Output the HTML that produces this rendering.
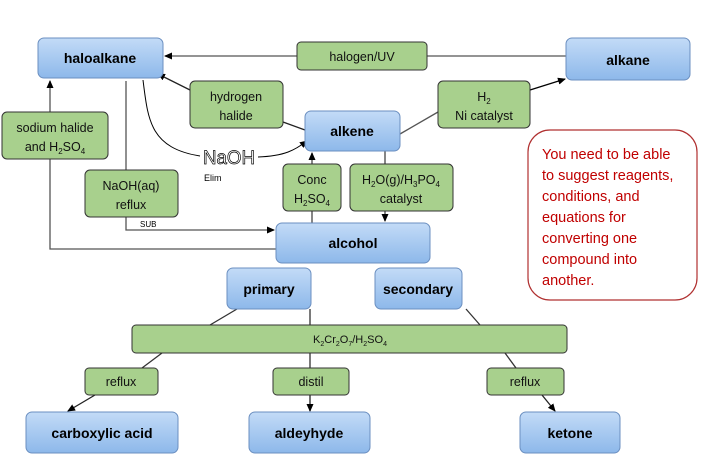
<!DOCTYPE html>
<html><head><meta charset="utf-8"><style>
html,body{margin:0;padding:0;background:#fff;}
svg{display:block;font-family:"Liberation Sans",sans-serif;}
.b{font-weight:bold;font-size:14px;fill:#000;}
.g{font-size:12.5px;fill:#111;}
</style></head><body>
<svg width="707" height="470" viewBox="0 0 707 470" xmlns="http://www.w3.org/2000/svg">
<defs>
<linearGradient id="bl" x1="0" y1="0" x2="0" y2="1"><stop offset="0" stop-color="#c3dbf7"/><stop offset="1" stop-color="#8db8ea"/></linearGradient>
<marker id="a" markerWidth="8" markerHeight="8" refX="7" refY="4" orient="auto" markerUnits="userSpaceOnUse"><path d="M0,0.5 L8,4 L0,7.5 z" fill="#000"/></marker>
</defs>
<g stroke="#555" stroke-width="1.3" fill="none">
<line x1="566" y1="56" x2="165" y2="56" marker-end="url(#a)"/>
<line x1="400" y1="134" x2="438" y2="112"/>
<line x1="530" y1="90" x2="565" y2="79" stroke="#000" marker-end="url(#a)"/>
<line x1="305" y1="130" x2="283" y2="122" stroke="#222"/>
<line x1="190" y1="90" x2="158" y2="74" stroke="#222" marker-end="url(#a)"/>
<polyline points="276,249 50,249 50,81" marker-end="url(#a)"/>
<polyline points="126,81 126,230 274,230" marker-end="url(#a)"/>
<line x1="312" y1="223" x2="312" y2="153" stroke="#444" marker-end="url(#a)"/>
<line x1="385" y1="151" x2="385" y2="221" stroke="#444" marker-end="url(#a)"/>
<line x1="237" y1="309" x2="210" y2="325" stroke="#333"/>
<line x1="310" y1="309" x2="310" y2="325" stroke="#333"/>
<line x1="466" y1="309" x2="480" y2="325" stroke="#333"/>
<line x1="162" y1="353" x2="142" y2="368" stroke="#333"/>
<line x1="310" y1="353" x2="310" y2="368" stroke="#333"/>
<line x1="505" y1="353" x2="516" y2="368" stroke="#333"/>
<line x1="95" y1="395" x2="68" y2="411" stroke="#222" marker-end="url(#a)"/>
<line x1="310" y1="395" x2="310" y2="411" stroke="#222" marker-end="url(#a)"/>
<line x1="542" y1="395" x2="555" y2="411" stroke="#222" marker-end="url(#a)"/>
<path d="M143,80 C148,120 150,148 200,156" stroke="#000" stroke-width="1"/>
<path d="M258,157 C285,156 295,150 307,141" stroke="#000" stroke-width="1" marker-end="url(#a)"/>
</g>
<text x="203" y="164" font-size="19" fill="none" stroke="#000" stroke-width="0.7" textLength="52" lengthAdjust="spacingAndGlyphs">NaOH</text>
<text x="204" y="181" font-size="9" fill="#000">Elim</text>
<text x="140" y="227" font-size="8" fill="#000">SUB</text>
<g stroke="#6b8fc0" stroke-width="1" fill="url(#bl)">
<rect x="38" y="38" width="125" height="40" rx="6"/>
<rect x="566" y="38" width="124" height="42" rx="6"/>
<rect x="305" y="111" width="95" height="40" rx="6"/>
<rect x="276" y="223" width="154" height="40" rx="6"/>
<rect x="227" y="268" width="84" height="41" rx="6"/>
<rect x="375" y="268" width="87" height="41" rx="6"/>
<rect x="26" y="412" width="152" height="41" rx="6"/>
<rect x="249" y="412" width="121" height="41" rx="6"/>
<rect x="520" y="412" width="100" height="41" rx="6"/>
</g>
<g stroke="#333" stroke-width="1" fill="#a8d08d">
<rect x="297" y="42" width="130" height="28" rx="4"/>
<rect x="190" y="81" width="93" height="47" rx="5"/>
<rect x="438" y="81" width="92" height="47" rx="5"/>
<rect x="2" y="112" width="106" height="47" rx="5"/>
<rect x="85" y="170" width="93" height="47" rx="5"/>
<rect x="283" y="164" width="58" height="47" rx="5"/>
<rect x="350" y="164" width="103" height="47" rx="5"/>
<rect x="132" y="325" width="435" height="28" rx="4"/>
<rect x="85" y="368" width="73" height="27" rx="4"/>
<rect x="273" y="368" width="76" height="27" rx="4"/>
<rect x="487" y="368" width="77" height="27" rx="4"/>
</g>
<g class="b" text-anchor="middle">
<text x="100" y="63">haloalkane</text>
<text x="628" y="65">alkane</text>
<text x="352" y="136">alkene</text>
<text x="353" y="248">alcohol</text>
<text x="269" y="294">primary</text>
<text x="418" y="294">secondary</text>
<text x="102" y="438">carboxylic acid</text>
<text x="309" y="438">aldeyhyde</text>
<text x="570" y="438">ketone</text>
</g>
<g class="g" text-anchor="middle">
<text x="362" y="61">halogen/UV</text>
<text x="236" y="101">hydrogen</text><text x="236" y="120">halide</text>
<text x="484" y="101">H<tspan font-size="8" dy="3">2</tspan></text><text x="484" y="120">Ni catalyst</text>
<text x="55" y="132">sodium halide</text><text x="55" y="151">and H<tspan font-size="8" dy="3">2</tspan><tspan dy="-3">SO</tspan><tspan font-size="8" dy="3">4</tspan></text>
<text x="131" y="190">NaOH(aq)</text><text x="131" y="209">reflux</text>
<text x="312" y="184">Conc</text><text x="312" y="203">H<tspan font-size="8" dy="3">2</tspan><tspan dy="-3">SO</tspan><tspan font-size="8" dy="3">4</tspan></text>
<text x="401" y="184">H<tspan font-size="8" dy="3">2</tspan><tspan dy="-3">O(g)/H</tspan><tspan font-size="8" dy="3">3</tspan><tspan dy="-3">PO</tspan><tspan font-size="8" dy="3">4</tspan></text><text x="401" y="203">catalyst</text>
<text x="350" y="343" font-size="11">K<tspan font-size="7" dy="3">2</tspan><tspan dy="-3">Cr</tspan><tspan font-size="7" dy="3">2</tspan><tspan dy="-3">O</tspan><tspan font-size="7" dy="3">7</tspan><tspan dy="-3">/H</tspan><tspan font-size="7" dy="3">2</tspan><tspan dy="-3">SO</tspan><tspan font-size="7" dy="3">4</tspan></text>
<text x="121" y="386">reflux</text>
<text x="311" y="386">distil</text>
<text x="525" y="386">reflux</text>
</g>
<rect x="528" y="130" width="169" height="170" rx="22" fill="#fff" stroke="#b03030" stroke-width="1.2"/>
<g font-size="14.5" fill="#c00000">
<text x="542" y="159">You need to be able</text>
<text x="542" y="180">to suggest reagents,</text>
<text x="542" y="201">conditions, and</text>
<text x="542" y="222">equations for</text>
<text x="542" y="243">converting one</text>
<text x="542" y="264">compound into</text>
<text x="542" y="285">another.</text>
</g>
</svg>
</body></html>
